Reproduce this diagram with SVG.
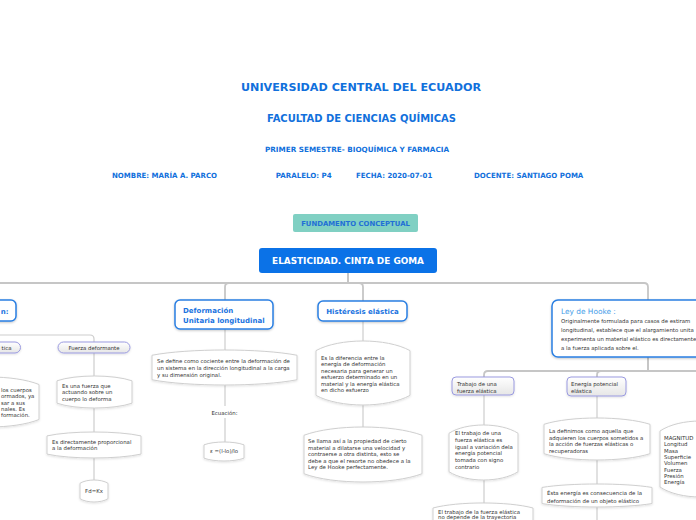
<svg xmlns="http://www.w3.org/2000/svg" width="696" height="520" viewBox="0 0 696 520">
<defs>
<filter id="sh" x="-20%" y="-20%" width="140%" height="150%">
<feDropShadow dx="0" dy="1" stdDeviation="1" flood-color="#000" flood-opacity="0.22"/>
</filter>
<filter id="sh2" x="-20%" y="-20%" width="140%" height="150%">
<feDropShadow dx="0" dy="1" stdDeviation="0.8" flood-color="#000" flood-opacity="0.12"/>
</filter>
<linearGradient id="pg" x1="0" y1="0" x2="0" y2="1">
<stop offset="0" stop-color="#ffffff"/>
<stop offset="1" stop-color="#e6e6e6"/>
</linearGradient>
<style>
.hd{font-family:"DejaVu Sans",Verdana,sans-serif;font-weight:bold;fill:#1170dc}
.blue{fill:#fff;stroke:#2a7fe2;stroke-width:1.5;filter:url(#sh)}
.bt{font-family:"DejaVu Sans",Verdana,sans-serif;font-weight:bold;font-size:7px;fill:#1a73e0}
.pill{fill:url(#pg);stroke:#9a9ae0;stroke-width:1;filter:url(#sh2)}
.cn{fill:#fff;stroke:#cfcfcf;stroke-width:1;filter:url(#sh2);stroke-linejoin:round}
.tx{font-family:"DejaVu Sans",Verdana,sans-serif;font-size:5.4px;fill:#333}
.l1{fill:none;stroke:#c6c6c6;stroke-width:1.8}
.l2{fill:none;stroke:#cdcdcd;stroke-width:1.2}
</style>
</defs>
<rect width="696" height="520" fill="#fff"/>

<g id="header">
<text class="hd" x="241" y="91" font-size="11.1" textLength="240" lengthAdjust="spacingAndGlyphs">UNIVERSIDAD CENTRAL DEL ECUADOR</text>
<text class="hd" x="267" y="122" font-size="9.8" textLength="189" lengthAdjust="spacingAndGlyphs">FACULTAD DE CIENCIAS QUÍMICAS</text>
<text class="hd" x="265" y="152.3" font-size="7.2" textLength="184" lengthAdjust="spacingAndGlyphs">PRIMER SEMESTRE- BIOQUÍMICA Y FARMACIA</text>
<text class="hd" x="112" y="178" font-size="7.1" textLength="105" lengthAdjust="spacingAndGlyphs">NOMBRE: MARÍA A. PARCO</text>
<text class="hd" x="275.7" y="178" font-size="7.1" textLength="56" lengthAdjust="spacingAndGlyphs">PARALELO: P4</text>
<text class="hd" x="356" y="178" font-size="7.1" textLength="76.3" lengthAdjust="spacingAndGlyphs">FECHA: 2020-07-01</text>
<text class="hd" x="474" y="178" font-size="7.1" textLength="109.3" lengthAdjust="spacingAndGlyphs">DOCENTE: SANTIAGO POMA</text>
</g>

<g id="connectors">
<path class="l1" d="M348,273 V283 H-10"/>
<path class="l1" d="M348,273 V283 H229 Q225,283 225,287 V300"/>
<path class="l1" d="M348,273 V283 H359 Q363,283 363,287 V301"/>
<path class="l1" d="M348,273 V283 H644 Q648,283 648,287 V300"/>
<path class="l2" d="M-10,335 H90 Q94,335 94,339 V342"/>
<path class="l2" d="M94,353 V376"/>
<path class="l2" d="M94,408 V432"/>
<path class="l2" d="M94,458 V480"/>
<path class="l2" d="M225,329 V350"/>
<path class="l2" d="M225,385 V406"/>
<path class="l2" d="M225,418 V442"/>
<path class="l2" d="M363,321 V341"/>
<path class="l2" d="M363,405 V427"/>
<path class="l1" d="M648,357 V371 H488 Q484,371 484,375 V377"/>
<path class="l1" d="M648,357 V371 H601 Q597,371 597,375 V377"/>
<path class="l1" d="M648,357 V371 H700"/>
<path class="l2" d="M484,395 V425"/>
<path class="l2" d="M484,480 V503"/>
<path class="l2" d="M597,396 V418"/>
<path class="l2" d="M597,460 V484"/>
<path class="l2" d="M597,507 V521"/>
</g>

<g id="fundamento">
<rect x="293" y="214" width="125" height="18" rx="2" fill="#80d0c3"/>
<text x="355.5" y="225.5" text-anchor="middle" font-family="DejaVu Sans,Verdana,sans-serif" font-weight="bold" font-size="6.9" fill="#1f6fd6">FUNDAMENTO CONCEPTUAL</text>
</g>

<g id="root">
<rect x="259" y="248" width="178" height="25" rx="3" fill="#0b72e7"/>
<text x="348" y="263.5" text-anchor="middle" font-family="DejaVu Sans,Verdana,sans-serif" font-weight="bold" font-size="8.9" fill="#fff">ELASTICIDAD. CINTA DE GOMA</text>
</g>

<g id="left">
<rect class="blue" x="-80" y="300" width="96" height="21" rx="5"/>
<text class="bt" x="8.5" y="313.5" text-anchor="end">n:</text>
</g>
<g id="left-pill">
<rect class="pill" x="-40" y="342" width="60.5" height="11" rx="5.5"/>
<text class="tx" x="11.5" y="349.8" text-anchor="end">tica</text>
</g>
<g id="left-content">
<path class="cn" d="M-60,384.5 C-35.25,374.5 14.25,374.5 39,384.5 L39,419.5 C14.25,429.5 -35.25,429.5 -60,419.5 Z"/>
<text class="tx" x="1" y="392">los cuerpos</text>
<text class="tx" x="1" y="398.3">ormados, ya</text>
<text class="tx" x="1" y="404.6">sar a sus</text>
<text class="tx" x="1" y="410.9">nales. Es</text>
<text class="tx" x="1" y="417.2">formación.</text>
</g>

<g id="fuerza">
<rect class="pill" x="58" y="342" width="72" height="11" rx="5.5"/>
<text class="tx" x="94" y="349.8" text-anchor="middle">Fuerza deformante</text>
</g>
<g id="fuerza-c1">
<path class="cn" d="M57,380.8 C75.75,374.4 113.25,374.4 132,380.8 L132,403.2 C113.25,409.6 75.75,409.6 57,403.2 Z"/>
<text class="tx" x="62" y="388">Es una fuerza que</text>
<text class="tx" x="62" y="394.3">actuando sobre un</text>
<text class="tx" x="62" y="400.6">cuerpo lo deforma</text>
</g>
<g id="fuerza-c2">
<path class="cn" d="M47,435.9 C70.5,430.7 117.5,430.7 141,435.9 L141,454.1 C117.5,459.3 70.5,459.3 47,454.1 Z"/>
<text class="tx" x="52" y="444">Es directamente proporcional</text>
<text class="tx" x="52" y="450.3">a la deformación</text>
</g>
<g id="fuerza-c3">
<path class="cn" d="M80,483.3 C87,478.9 101,478.9 108,483.3 L108,498.7 C101,503.1 87,503.1 80,498.7 Z"/>
<text class="tx" x="94" y="493" text-anchor="middle">Fd=Kx</text>
</g>

<g id="deformacion">
<rect class="blue" x="175" y="300" width="98" height="29" rx="5"/>
<text class="bt" x="183" y="313">Deformación</text>
<text class="bt" x="183" y="322.5">Unitaria longitudinal</text>
</g>
<g id="deformacion-c1">
<path class="cn" d="M152,355.25 C188.25,348.25 260.75,348.25 297,355.25 L297,379.75 C260.75,386.75 188.25,386.75 152,379.75 Z"/>
<text class="tx" x="157" y="363.3">Se define como cociente entre la deformación de</text>
<text class="tx" x="157" y="370">un sistema en la dirección longitudinal a la carga</text>
<text class="tx" x="157" y="376.7">y su dimensión original.</text>
</g>
<g id="ecuacion">
<text class="tx" x="224.5" y="414.5" text-anchor="middle" fill="#444">Ecuación:</text>
</g>
<g id="deformacion-c2">
<path class="cn" d="M204,444.85 C214,441.05 234,441.05 244,444.85 L244,458.15 C234,461.95 214,461.95 204,458.15 Z"/>
<text class="tx" x="224" y="453.2" text-anchor="middle">ε =(l-lo)/lo</text>
</g>

<g id="histeresis">
<rect class="blue" x="318" y="301" width="89" height="20" rx="5"/>
<text class="bt" x="362.5" y="313.5" text-anchor="middle">Histéresis elástica</text>
</g>
<g id="histeresis-c1">
<path class="cn" d="M316,350.6 C339.5,337.8 386.5,337.8 410,350.6 L410,395.4 C386.5,408.2 339.5,408.2 316,395.4 Z"/>
<text class="tx" x="321" y="359.5">Es la diferencia entre la</text>
<text class="tx" x="321" y="366">energía de deformación</text>
<text class="tx" x="321" y="372.5">necesaria para generar un</text>
<text class="tx" x="321" y="379">esfuerzo determinado en un</text>
<text class="tx" x="321" y="385.5">material y la energía elástica</text>
<text class="tx" x="321" y="392">en dicho esfuerzo</text>
</g>
<g id="histeresis-c2">
<path class="cn" d="M304,435.25 C333.5,424.25 392.5,424.25 422,435.25 L422,473.75 C392.5,484.75 333.5,484.75 304,473.75 Z"/>
<text class="tx" x="308" y="443">Se llama así a la propiedad de cierto</text>
<text class="tx" x="308" y="449.5">material a dilatarse una velocidad y</text>
<text class="tx" x="308" y="456">contraerse a otra distinta, esto se</text>
<text class="tx" x="308" y="462.5">debe a que el resorte no obedece a la</text>
<text class="tx" x="308" y="469">Ley de Hooke perfectamente.</text>
</g>

<g id="hooke">
<rect class="blue" x="552" y="300" width="200" height="57" rx="6"/>
<text x="561" y="314" font-family="DejaVu Sans,Verdana,sans-serif" font-size="7.4" fill="#3f9ce8">Ley de Hooke :</text>
<text class="tx" x="561" y="322.7" fill="#222">Originalmente formulada  para casos de estiram</text>
<text class="tx" x="561" y="331.7" fill="#222">longitudinal, establece que el alargamiento unita</text>
<text class="tx" x="561" y="340.7" fill="#222">experimenta un material elástico es directamente</text>
<text class="tx" x="561" y="349.7" fill="#222">a la fuerza aplicada sobre el.</text>
</g>

<g id="trabajo">
<rect class="pill" x="452" y="377" width="62" height="18" rx="4"/>
<text class="tx" x="457" y="386">Trabajo de una</text>
<text class="tx" x="457" y="393">fuerza elástica</text>
</g>
<g id="trabajo-c1">
<path class="cn" d="M449,433.25 C466.25,422.25 500.75,422.25 518,433.25 L518,471.75 C500.75,482.75 466.25,482.75 449,471.75 Z"/>
<text class="tx" x="455" y="434.7">El trabajo de una</text>
<text class="tx" x="455" y="441.6">fuerza elástica es</text>
<text class="tx" x="455" y="448.5">igual a variación dela</text>
<text class="tx" x="455" y="455.4">energía potencial</text>
<text class="tx" x="455" y="462.3">tomada con signo</text>
<text class="tx" x="455" y="469.2">contrario</text>
</g>
<g id="trabajo-c2">
<path class="cn" d="M433,508 C458,501.3 508,501.3 533,508 L533,530 L433,530 Z"/>
<text class="tx" x="438" y="513.8">El trabajo de la fuerza elástica</text>
<text class="tx" x="438" y="519">no depende de la trayectoria</text>
</g>

<g id="energia">
<rect class="pill" x="567" y="377" width="59" height="19" rx="4"/>
<text class="tx" x="571" y="386.3">Energía potencial</text>
<text class="tx" x="571" y="393">elástica</text>
</g>
<g id="energia-c1">
<path class="cn" d="M544,424.3 C570.5,415.9 623.5,415.9 650,424.3 L650,453.7 C623.5,462.1 570.5,462.1 544,453.7 Z"/>
<text class="tx" x="549" y="432.7">La definimos como aquella que</text>
<text class="tx" x="549" y="439.5">adquieren los cuerpos sometidos a</text>
<text class="tx" x="549" y="446.3">la acción de fuerzas elásticas o</text>
<text class="tx" x="549" y="453.1">recuperadoras</text>
</g>
<g id="energia-c2">
<path class="cn" d="M542,487.45 C569.5,482.85 624.5,482.85 652,487.45 L652,503.55 C624.5,508.15 569.5,508.15 542,503.55 Z"/>
<text class="tx" x="547" y="495.3">Ésta energía es consecuencia de la</text>
<text class="tx" x="547" y="503">deformación de un objeto elástico</text>
</g>

<g id="magnitud">
<path class="cn" d="M660,431 C680,417.7 720,417.7 740,431 L740,487 C720,500.3 680,500.3 660,487 Z"/>
<text class="tx" x="664" y="440" fill="#34346e">MAGNITUD</text>
<text class="tx" x="664" y="446.3" fill="#34346e">Longitud</text>
<text class="tx" x="664" y="452.6" fill="#34346e">Masa</text>
<text class="tx" x="664" y="458.9" fill="#34346e">Superficie</text>
<text class="tx" x="664" y="465.2" fill="#34346e">Volumen</text>
<text class="tx" x="664" y="471.5" fill="#34346e">Fuerza</text>
<text class="tx" x="664" y="477.8" fill="#34346e">Presión</text>
<text class="tx" x="664" y="484.1" fill="#34346e">Energía</text>
</g>
</svg>
